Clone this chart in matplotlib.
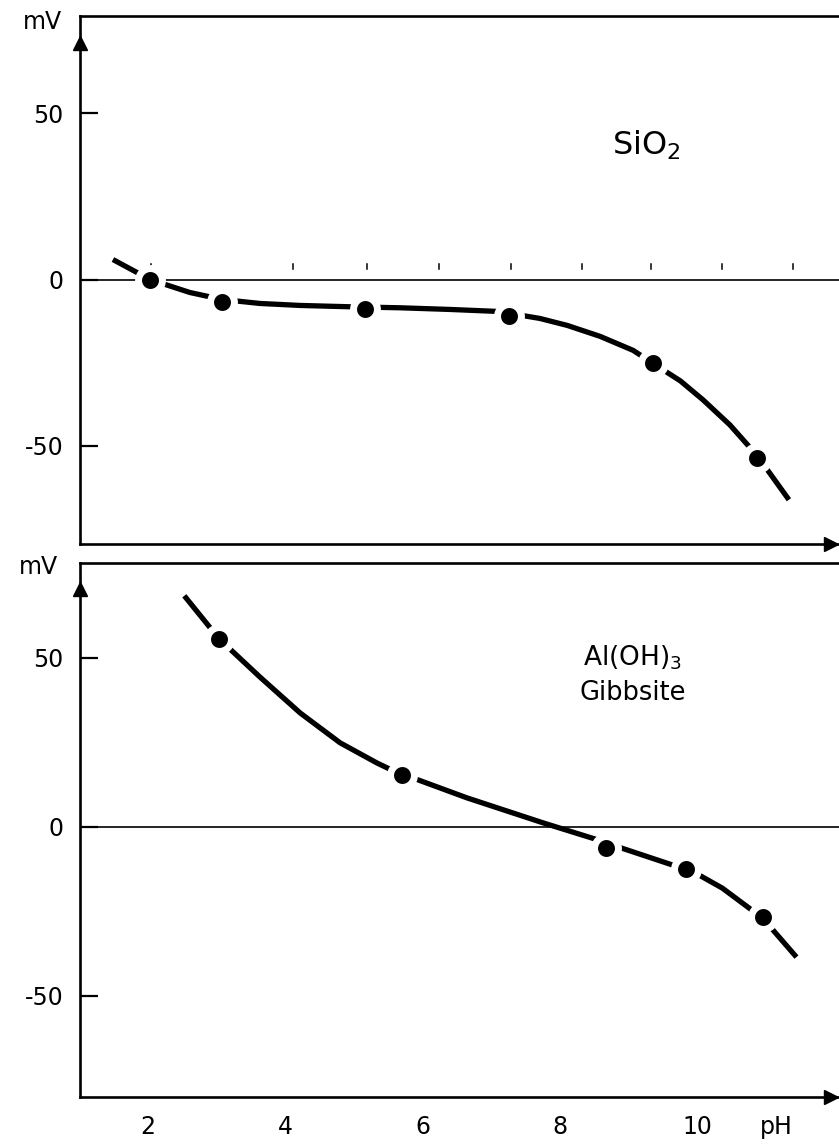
import matplotlib
matplotlib.use("Agg")
import matplotlib.pyplot as plt
import matplotlib.transforms as mtransforms

plt.rcParams['font.family'] = ['DejaVu Sans']
plt.rcParams['mathtext.fontset'] = 'dejavusans'

# ---- data ----
sio2_curve_ph = [1.49, 2.03, 2.61, 3.08, 3.63, 4.22, 4.95, 5.67, 6.40, 7.10, 7.71, 8.11, 8.59, 9.07, 9.36, 9.76, 10.09, 10.48, 10.88, 11.34]
sio2_curve_mv = [6.0, 0.0, -3.9, -6.0, -7.2, -7.8, -8.2, -8.5, -9.0, -9.6, -11.7, -13.8, -17.1, -21.3, -25.2, -30.5, -36.2, -43.7, -53.0, -66.2]
sio2_pts_ph = [2.03, 3.08, 5.16, 7.26, 9.36, 10.88]
sio2_pts_mv = [0.0, -6.9, -9.0, -11.1, -25.1, -53.6]
sio2_marks_ph = [2.04, 4.11, 5.19, 6.24, 7.29, 8.33, 9.33, 10.37, 11.40]

gib_curve_ph = [2.53, 3.04, 3.63, 4.22, 4.80, 5.34, 5.67, 5.86, 6.65, 7.76, 8.52, 8.85, 9.68, 10.02, 10.37, 10.78, 11.07, 11.45]
gib_curve_mv = [68.4, 55.6, 44.4, 33.7, 24.9, 18.9, 15.7, 14.5, 8.6, 1.2, -3.6, -5.9, -11.5, -14.1, -18.1, -24.3, -29.6, -38.5]
gib_pts_ph = [3.04, 5.70, 8.67, 9.84, 10.96]
gib_pts_mv = [55.6, 15.4, -6.1, -12.5, -26.7]

y_ticks = [50, 0, -50]
y_ticklabels = ['50', '0', '-50']
x_ticks = [2, 4, 6, 8, 10]
x_ticklabels = ['2', '4', '6', '8', '10']

W, H = 839, 1145
fig = plt.figure(figsize=(W / 100, H / 100), dpi=100)

def px_rect(left, top, right, bottom):
    return [left / W, 1 - bottom / H, (right - left) / W, (bottom - top) / H]

ax1 = fig.add_axes(px_rect(80, 16, 839, 544))
ax2 = fig.add_axes(px_rect(80, 563, 839, 1097))

XLIM = (1.01, 12.07)
FS = 17

def style(ax, ylim, arrow_y):
    ax.set_xlim(*XLIM)
    ax.set_ylim(*ylim)
    for s in ['left', 'top', 'bottom']:
        ax.spines[s].set_linewidth(1.9)
        ax.spines[s].set_color('black')
    ax.spines['right'].set_visible(False)
    ax.set_yticks(y_ticks)
    ax.set_yticklabels(y_ticklabels)
    ax.tick_params(axis='y', direction='in', length=13, width=1.6, pad=12, labelsize=FS)
    ax.tick_params(axis='x', length=0)
    ax.axhline(0, color='black', lw=1.2, zorder=1)
    ax.plot([XLIM[0]], [arrow_y], marker='^', color='black', ms=10, clip_on=False, zorder=5)
    ax.plot([XLIM[1] - 0.12], [ylim[0]], marker='>', color='black', ms=10, clip_on=False, zorder=5)

style(ax1, (-79.5, 79.2), 71.0)
style(ax2, (-79.9, 78.1), 70.4)

ax1.set_xticks([])
ax2.set_xticks(x_ticks)
ax2.set_xticklabels(x_ticklabels)
ax2.tick_params(axis='x', pad=13, labelsize=FS)

for ax, cx, cy, px, py in [(ax1, sio2_curve_ph, sio2_curve_mv, sio2_pts_ph, sio2_pts_mv),
                           (ax2, gib_curve_ph, gib_curve_mv, gib_pts_ph, gib_pts_mv)]:
    ax.plot(cx, cy, color='black', lw=3.8, solid_capstyle='butt', solid_joinstyle='round', zorder=2)
    ax.plot(px, py, linestyle='none', marker='o', ms=17.2, mfc='black', mec='white', mew=5, zorder=3)

# faint scanned tick remnants above the zero line (top panel)
for xm in sio2_marks_ph:
    ax1.plot([xm, xm], [3.2, 4.8], color='black', lw=1.1, zorder=1)

# labels
ax1.text(9.27, 37.4, r'SiO$_2$', fontsize=23, ha='center', va='baseline')
ax2.text(9.06, 50.0, r'Al(OH)$_3$', fontsize=19, ha='center', va='center')
ax2.text(9.06, 39.7, 'Gibbsite', fontsize=18.5, ha='center', va='center')

fig.text(42 / W, 1 - 22 / H, 'mV', fontsize=FS, ha='center', va='center')
fig.text(38 / W, 1 - 567 / H, 'mV', fontsize=FS, ha='center', va='center')

offset = mtransforms.ScaledTranslation(0, -13 / 72, fig.dpi_scale_trans)
ax2.text(11.15, -79.9, 'pH', fontsize=FS, ha='center', va='top',
         transform=ax2.transData + offset)

fig.savefig('out.png', dpi=100)
